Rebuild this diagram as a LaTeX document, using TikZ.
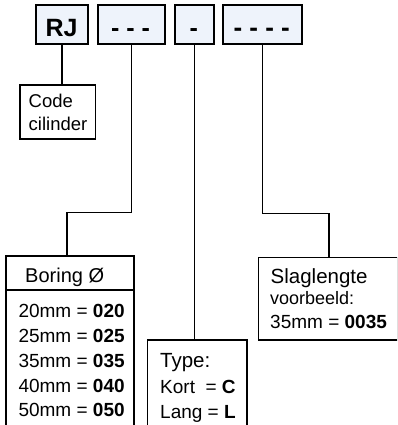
\documentclass[tikz,border=0pt]{standalone}
\usepackage{fontspec}
\setmainfont{Liberation Sans}
\definecolor{boxfill}{HTML}{EEF3FB}
\newcommand\fsz[1]{\fontsize{#1}{#1}\selectfont}
\begin{document}
\begin{tikzpicture}[x=1pt,y=-1pt,
  codebox/.style={draw=black, line width=1.8pt, fill=boxfill, minimum height=39.5pt, inner sep=0pt, anchor=north west},
  infobox/.style={draw=black, line width=1.6pt, inner sep=0pt, anchor=north west},
  link/.style={line width=1.6pt},
  txt/.style={anchor=base west, inner sep=0pt},
  ctxt/.style={anchor=base, inner sep=0pt, font=\fsz{25}\bfseries},
]
\useasboundingbox (0,0) rectangle (397,425);
\clip (0,0) rectangle (397,425);
% code boxes
\node[codebox, minimum width=51.7pt] (rj) at (35,4) {};
\node[codebox, minimum width=67.6pt] (d3) at (96.7,4) {};
\node[codebox, minimum width=39.3pt] (d1) at (174,4) {};
\node[codebox, minimum width=79.3pt] (d4) at (222,4) {};
\node[ctxt] (rjt) at (61.5,36.7) {RJ};
\node[ctxt] (d3t) at (130.5,36.7) {- - -};
\node[ctxt] (d1t) at (193.7,36.7) {-};
\node[ctxt, font=\fsz{26}\bfseries] (d4t) at (261.7,36.7) {- - - -};
% info boxes
\node[infobox, minimum width=75.4pt, minimum height=53.7pt] (code) at (19.3,84.3) {};
\node[infobox, minimum width=128pt, minimum height=190pt] (boring) at (5,255) {};
\node[infobox, minimum width=99.3pt, minimum height=100pt] (type) at (146.7,339) {};
\node[infobox, minimum width=139pt, minimum height=82.3pt] (slag) at (257.7,256.7) {};
\draw[line width=1.6pt] (boring.west |- 0,290) -- (boring.east |- 0,290);
% texts
\node[txt, font=\fsz{18.5}] (c1) at (28.5,107.3) {Code};
\node[txt, font=\fsz{18.5}] (c2) at (28.5,130) {cilinder};
\node[txt, font=\fsz{20}] (b0) at (25,282.3) {Boring Ø};
\node[txt, font=\fsz{19}] (b1) at (18.3,317.7) {20mm = \textbf{020}};
\node[txt, font=\fsz{19}] (b2) at (18.3,342.5) {25mm = \textbf{025}};
\node[txt, font=\fsz{19}] (b3) at (18.3,367.3) {35mm = \textbf{035}};
\node[txt, font=\fsz{19}] (b4) at (18.3,392.1) {40mm = \textbf{040}};
\node[txt, font=\fsz{19}] (b5) at (18.3,416.9) {50mm = \textbf{050}};
\node[txt, font=\fsz{20.5}] (t0) at (160,367.3) {Type:};
\node[txt, font=\fsz{19}] (t1) at (160,393) {Kort\ \ = \textbf{C}};
\node[txt, font=\fsz{19}] (t2) at (160,418.7) {Lang = \textbf{L}};
\node[txt, font=\fsz{20.5}] (s0) at (270.5,283.3) {Slaglengte};
\node[txt, font=\fsz{18}] (s1) at (270,304.3) {voorbeeld:};
\node[txt, font=\fsz{19}] (s2) at (270,328.7) {35mm = \textbf{0035}};
% connectors
\coordinate (bturn) at (66.7,212.3);
\coordinate (sturn) at (329,213.3);
\draw[link] (rj.south) -- (rj.south |- code.north);
\draw[link] (d3.south) |- (bturn) -- (bturn |- boring.north);
\draw[link] (d1.south) -- (d1.south |- type.north);
\draw[link] (d4.south) |- (sturn) -- (sturn |- slag.north);
\end{tikzpicture}
\end{document}
